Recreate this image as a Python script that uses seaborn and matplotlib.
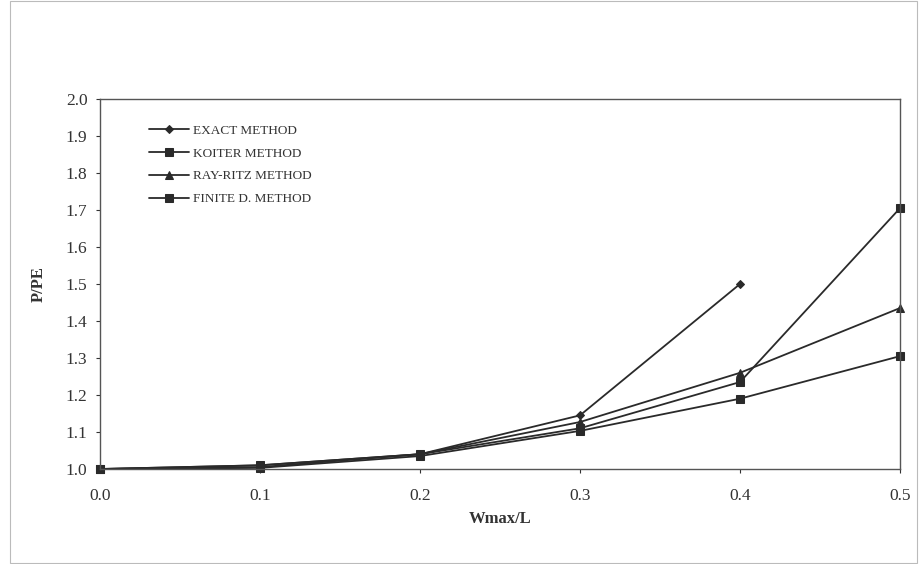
import matplotlib
matplotlib.use("Agg")
import matplotlib.pyplot as plt
import seaborn as sns
import pandas as pd
from matplotlib.patches import Rectangle

# Data
x_exact = [0.0, 0.1, 0.2, 0.3, 0.4]
y_exact = [1.0, 1.005, 1.04, 1.145, 1.50]
x_full = [0.0, 0.1, 0.2, 0.3, 0.4, 0.5]
y_koiter = [1.0, 1.003, 1.035, 1.103, 1.19, 1.305]
y_rayritz = [1.0, 1.01, 1.04, 1.127, 1.26, 1.435]
y_finite = [1.0, 1.01, 1.04, 1.11, 1.235, 1.705]

series_names = ["EXACT METHOD", "KOITER METHOD", "RAY-RITZ METHOD", "FINITE D. METHOD"]
x_ticks = [0.0, 0.1, 0.2, 0.3, 0.4, 0.5]
y_ticks = [1.0, 1.1, 1.2, 1.3, 1.4, 1.5, 1.6, 1.7, 1.8, 1.9, 2.0]

frames = [
    pd.DataFrame({"x": x_exact, "y": y_exact, "s": series_names[0]}),
    pd.DataFrame({"x": x_full, "y": y_koiter, "s": series_names[1]}),
    pd.DataFrame({"x": x_full, "y": y_rayritz, "s": series_names[2]}),
    pd.DataFrame({"x": x_full, "y": y_finite, "s": series_names[3]}),
]
df = pd.concat(frames, ignore_index=True)

sns.set_style("white")
plt.rcParams['font.family'] = ['Liberation Serif', 'DejaVu Serif']

fig = plt.figure(figsize=(9.19, 5.64), dpi=100)
ax = fig.add_axes([100/919, 1 - 469/564, 800/919, 370/564])

markers = {series_names[0]: "D", series_names[1]: "s", series_names[2]: "^", series_names[3]: "s"}
msizes = {series_names[0]: 4, series_names[1]: 6, series_names[2]: 6, series_names[3]: 6}
col = "#2a2a2a"
for name in series_names:
    sub = df[df["s"] == name]
    sns.lineplot(data=sub, x="x", y="y", ax=ax, color=col, marker=markers[name],
                 markersize=msizes[name], markeredgecolor=col, linewidth=1.3,
                 label=name, sort=False, estimator=None, clip_on=False)

ax.set_xlim(0.0, 0.5)
ax.set_ylim(1.0, 2.0)
ax.set_xticks(x_ticks)
ax.set_xticklabels([f"{v:.1f}" for v in x_ticks])
ax.set_yticks(y_ticks)
ax.set_yticklabels([f"{v:.1f}" for v in y_ticks])
ax.tick_params(axis="both", labelsize=12.5, colors="#333333", direction="out",
               length=3, width=0.8, bottom=True, left=True)
ax.tick_params(axis="x", pad=11)
ax.tick_params(axis="y", pad=6)
for sp in ax.spines.values():
    sp.set_color("#555555")
    sp.set_linewidth(1.0)

ax.set_xlabel("Wmax/L", fontsize=12, fontweight="bold", color="#333333", labelpad=5)
ax.set_ylabel("P/PE", fontsize=12, fontweight="bold", color="#333333", labelpad=14)

leg = ax.legend(loc="upper left", bbox_to_anchor=(0.055, 0.945), frameon=False,
                fontsize=9.5, handlelength=3.0, handletextpad=0.3, labelspacing=0.8,
                borderaxespad=0)
for t in leg.get_texts():
    t.set_color("#333333")

fig.patches.append(Rectangle((10/919, 0.002), 907/919, 0.996, transform=fig.transFigure,
                             fill=False, edgecolor="#bbbbbb", linewidth=0.8))

fig.savefig("out.png", dpi=100)
